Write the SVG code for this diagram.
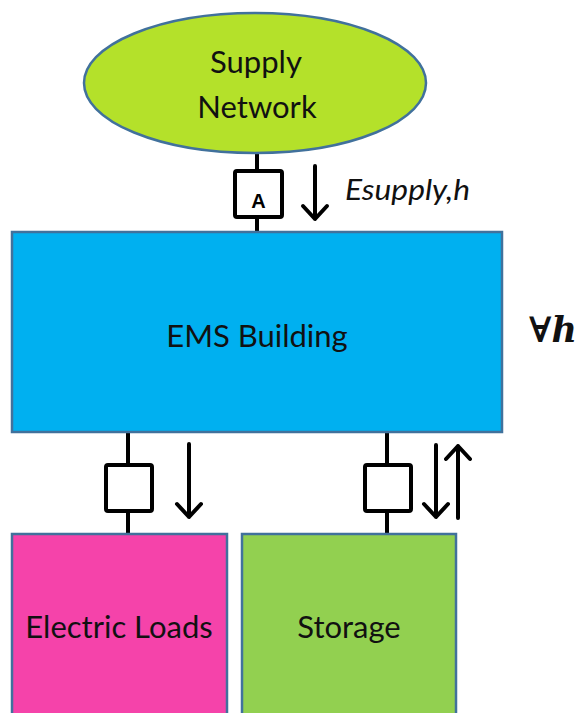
<svg xmlns="http://www.w3.org/2000/svg" width="582" height="713" viewBox="0 0 582 713">
<style>
.lbl{font-family:Lato,"Open Sans","Liberation Sans",sans-serif;font-size:31px;fill:#111;text-anchor:middle}
.node{stroke:#41719C;stroke-width:2.5}
.wire{stroke:#000;stroke-width:4;fill:none}
.meter{stroke:#000;stroke-width:4;fill:#fff}
.arr{stroke:#000;stroke-width:4;fill:none;stroke-linecap:round;stroke-linejoin:round}
</style>
<rect width="582" height="713" fill="#fff"/>
<g id="connectors">
<line class="wire" x1="257" y1="152" x2="257" y2="233"/>
<rect class="meter" x="235" y="171" width="47" height="46" rx="2"/>
<text x="258.5" y="208" font-family="Liberation Sans,Arial,sans-serif" font-size="20" font-weight="bold" text-anchor="middle">A</text>
<path class="arr" d="M315 166V219M303 206L315 219L327 206"/>
<text x="345" y="200" font-family="Lato,Open Sans,Liberation Sans,sans-serif" font-size="28" font-style="italic" fill="#111" textLength="125" lengthAdjust="spacingAndGlyphs">Esupply,h</text>
<line class="wire" x1="128" y1="432" x2="128" y2="535"/>
<rect class="meter" x="106" y="465" width="46" height="46" rx="2"/>
<path class="arr" d="M189 444V517M177 504L189 517L201 504"/>
<line class="wire" x1="387" y1="432" x2="387" y2="535"/>
<rect class="meter" x="365" y="465" width="46" height="46" rx="2"/>
<path class="arr" d="M436 445V517M424 504L436 517L448 504"/>
<path class="arr" d="M458 518V446M446 459L458 446L470 459"/>
</g>
<g id="supply">
<ellipse class="node" cx="255" cy="83" rx="171" ry="70" fill="#B4E12A"/>
<text class="lbl" x="256" y="73">Supply</text>
<text class="lbl" x="257" y="118">Network</text>
</g>
<g id="ems">
<rect class="node" x="12" y="232" width="490" height="200" fill="#00B0F0"/>
<text class="lbl" x="257" y="347">EMS Building</text>
</g>
<g id="forall">
<text x="529" y="342" font-family="DejaVu Serif,Liberation Serif,serif" font-size="35" font-weight="bold" font-style="italic" fill="#111">∀h</text>
</g>
<g id="loads">
<rect class="node" x="12" y="534" width="215" height="190" fill="#F543AA"/>
<text class="lbl" x="119" y="638">Electric Loads</text>
</g>
<g id="storage">
<rect class="node" x="242" y="534" width="214" height="190" fill="#92D050"/>
<text class="lbl" x="349" y="638">Storage</text>
</g>
</svg>
